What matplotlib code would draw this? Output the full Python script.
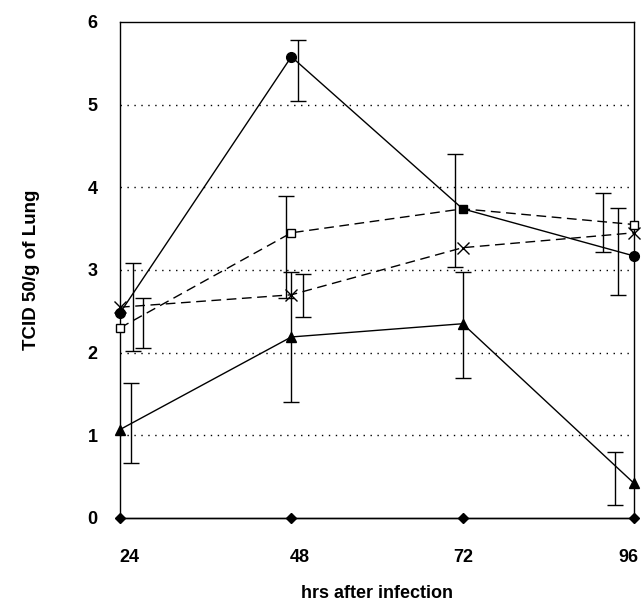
import matplotlib.pyplot as plt
import matplotlib.transforms as mtransforms
import numpy as np

plt.rcParams['font.family'] = ['Liberation Sans', 'DejaVu Sans']

hours = [24, 48, 72, 96]

# series values
circle_vals = [2.48, 5.58, 3.74, 3.17]
square_vals = [2.30, 3.45, 3.74, 3.55]
cross_vals = [2.55, 2.70, 3.27, 3.45]
triangle_vals = [1.07, 2.19, 2.35, 0.42]
diamond_vals = [0, 0, 0, 0]

# error bars: (lower, upper); nan where no bar is visible
circle_err = [[np.nan, 0.53, 0.70, 0.47], [np.nan, 0.20, 0.66, 0.58]]
square_err = [[0.24, 0.79, np.nan, 0.33], [0.36, 0.44, np.nan, 0.38]]
cross_err = [[0.53, 0.27, np.nan, np.nan], [0.53, 0.25, np.nan, np.nan]]
triangle_err = [[0.41, 0.79, 0.66, 0.26], [0.56, 0.79, 0.62, 0.38]]

# horizontal shift of each error bar (hours), as in the original
circle_shift = [0, 1.0, -1.1, -2.2]
square_shift = [3.2, -0.7, 0, -4.4]
cross_shift = [1.8, 1.7, 0, 0]
triangle_shift = [1.5, 0, 0, -2.7]

fig = plt.figure(figsize=(6.42, 6.06), dpi=100)
ax = fig.add_axes([120 / 642, 88 / 606, 514 / 642, 496 / 606])

def draw_err(vals, err, shift):
    x = np.array(hours) + np.array(shift)
    ax.errorbar(x, vals, yerr=np.array(err), fmt='none', ecolor='black',
                elinewidth=1.0, capsize=6, capthick=1.0, clip_on=False, zorder=2)

draw_err(circle_vals, circle_err, circle_shift)
draw_err(square_vals, square_err, square_shift)
draw_err(cross_vals, cross_err, cross_shift)
draw_err(triangle_vals, triangle_err, triangle_shift)

dash = (0, (7, 4))
ax.plot(hours, diamond_vals, color='black', lw=1.0, marker='D', ms=5, clip_on=False, zorder=3)
ax.plot(hours, square_vals, color='black', lw=1.0, ls=dash, marker='s', ms=6,
        mfc='white', mec='black', markevery=[0, 1, 3], clip_on=False, zorder=3)
ax.plot(hours, cross_vals, color='black', lw=1.0, ls=dash, marker='x', ms=8,
        mew=1.0, clip_on=False, zorder=3)
ax.plot(hours, triangle_vals, color='black', lw=1.0, marker='^', ms=7, clip_on=False, zorder=4)
ax.plot(hours, circle_vals, color='black', lw=1.0, marker='o', ms=7,
        markevery=[0, 1, 3], clip_on=False, zorder=4)
# the 72 h point shows as a filled square in the original
ax.plot([hours[2]], [circle_vals[2]], color='black', marker='s', ms=6, ls='none', zorder=5)

ax.set_xlim(24, 96)
ax.set_ylim(0, 6)
ax.set_xticks(hours)
ax.set_yticks(range(0, 7))
ax.tick_params(length=0, labelsize=13)
for lab in ax.get_xticklabels() + ax.get_yticklabels():
    lab.set_fontweight('bold')
ax.tick_params(axis='y', pad=16)
ax.tick_params(axis='x', pad=22)

# x tick labels sit a little off the points in the original
label_nudge = [9, 8, 1, -6]
for lab, dx in zip(ax.get_xticklabels(), label_nudge):
    lab.set_transform(lab.get_transform() +
                      mtransforms.ScaledTranslation(dx / 100, 0, fig.dpi_scale_trans))

for v in range(1, 6):
    ax.axhline(v, color='black', lw=1.0, ls=(0, (1, 4)), zorder=1)

for s in ax.spines.values():
    s.set_linewidth(1.0)

ax.set_xlabel('hrs after infection', fontsize=13, fontweight='bold', labelpad=14)
ax.set_ylabel('TCID 50/g of Lung', fontsize=13.5, fontweight='bold', labelpad=34)

fig.savefig('out.png', dpi=100)
